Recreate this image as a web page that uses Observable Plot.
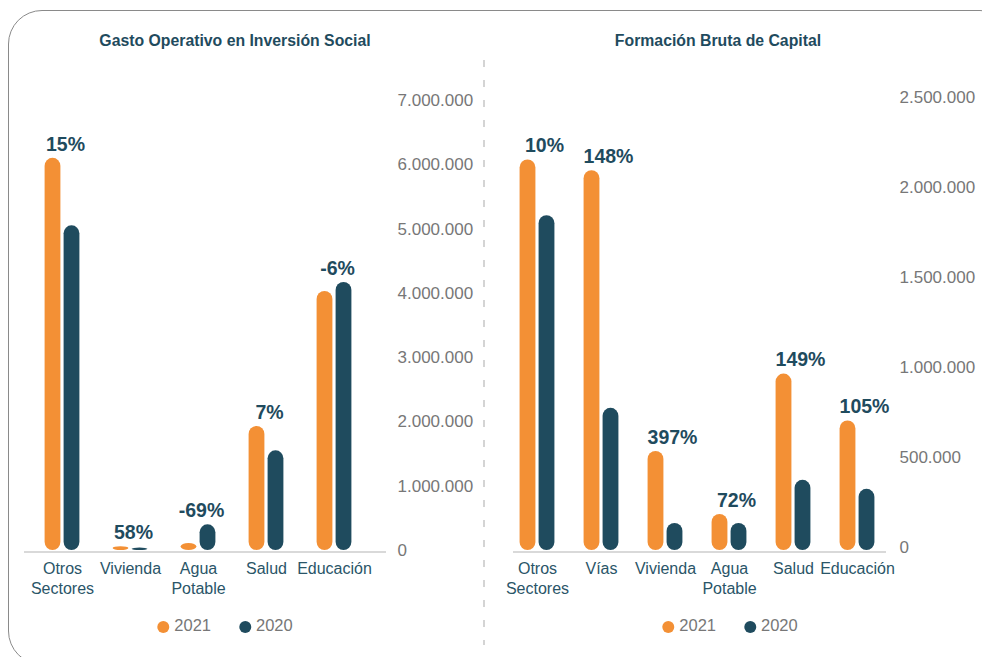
<!DOCTYPE html>
<html>
<head>
<meta charset="utf-8">
<script src="https://cdn.jsdelivr.net/npm/d3@7"></script>
<script src="https://cdn.jsdelivr.net/npm/@observablehq/plot@0.6"></script>
<style>
  html, body { margin: 0; padding: 0; background: #fff; }
  #wrap { position: relative; width: 982px; height: 657px; overflow: hidden; font-family: "Liberation Sans", Arial, sans-serif; }
  #border { position: absolute; left: 8px; top: 10px; width: 1006px; height: 655px; border: 1px solid #8a8a8a; border-radius: 34px; box-sizing: border-box; }
  .title { position: absolute; top: 32px; transform: translateX(-50%); white-space: nowrap; font-weight: bold; font-size: 15.8px; color: #1f4b5e; }
  .legend { position: absolute; top: 616px; transform: translateX(-50%); white-space: nowrap; font-size: 16.5px; color: #777; display: flex; gap: 28px; }
  .legend span { display: inline-flex; align-items: center; }
  .legend i { display: inline-block; width: 12px; height: 12px; border-radius: 50%; margin-right: 5px; margin-top: 3px; }
  #sep { position: absolute; left: 483px; top: 60px; width: 2px; height: 585px; background: repeating-linear-gradient(to bottom, #d4d4d4 0 7px, transparent 7px 20px); }
  .plot { position: absolute; top: 0; }
</style>
</head>
<body>
<div id="wrap">
  <div id="border"></div>
  <div id="sep"></div>
  <div class="title" id="titleA" style="left:235px"></div>
  <div class="title" id="titleB" style="left:718px"></div>
  <div class="plot" id="plotA" style="left:0px"></div>
  <div class="plot" id="plotB" style="left:490px"></div>
  <div class="legend" id="legA" style="left:225px"></div>
  <div class="legend" id="legB" style="left:730px"></div>
</div>
<script>
// ---- data ----
const titleA = "Gasto Operativo en Inversión Social";
const titleB = "Formación Bruta de Capital";
const years = ["2021", "2020"];
const colors = ["#F39035", "#1F4B5E"];

const catsA = ["Otros\nSectores", "Vivienda", "Agua\nPotable", "Salud", "Educación"];
const a2021 = [6100000, 60000, 110000, 1930000, 4030000];
const a2020 = [5050000, 38000, 400000, 1550000, 4170000];
const pctA = ["15%", "58%", "-69%", "7%", "-6%"];
const ticksA = [0, 1000000, 2000000, 3000000, 4000000, 5000000, 6000000, 7000000];

const catsB = ["Otros\nSectores", "Vías", "Vivienda", "Agua\nPotable", "Salud", "Educación"];
const b2021 = [2170000, 2110000, 550000, 200000, 980000, 720000];
const b2020 = [1860000, 790000, 150000, 150000, 390000, 340000];
const pctB = ["10%", "148%", "397%", "72%", "149%", "105%"];
const ticksB = [0, 500000, 1000000, 1500000, 2000000, 2500000];

// ---- helpers ----
const fmt = d3.formatLocale({decimal: ",", thousands: ".", grouping: [3], currency: ["", ""]}).format(",");
const BAR_W = 16, HALF_GAP = 9.5;

function panel(cats, v21, v20, pcts, ticks, opts) {
  const rows21 = cats.map((c, i) => ({cat: c, value: v21[i]}));
  const rows20 = cats.map((c, i) => ({cat: c, value: v20[i]}));
  const labels = cats.map((c, i) => ({cat: c, value: Math.max(v21[i], v20[i]), label: pcts[i]}));
  const bw = (opts.xRange[1] - opts.xRange[0]) / cats.length;
  const inset = (bw - BAR_W) / 2;
  const barStyle = {x: "cat", y: "value", insetLeft: inset, insetRight: inset, rx: 8, ry: 8};
  return Plot.plot({
    width: opts.width,
    height: 610,
    marginLeft: opts.marginLeft,
    marginRight: opts.marginRight,
    marginTop: 100,
    marginBottom: 60,
    style: {fontFamily: '"Liberation Sans", Arial, sans-serif', background: "transparent", overflow: "visible"},
    x: {type: "band", domain: cats, range: opts.xRange, padding: 0},
    y: {domain: [0, ticks[ticks.length - 1]]},
    marks: [
      Plot.ruleY([0], {stroke: "#d9d9d9", strokeWidth: 2, dy: 1.5}),
      Plot.barY(rows21, {...barStyle, fill: colors[0], dx: -HALF_GAP}),
      Plot.barY(rows20, {...barStyle, fill: colors[1], dx: HALF_GAP}),
      Plot.text(labels, {x: "cat", y: "value", text: "label", dy: -14, dx: opts.labelDx,
        fontSize: 19.5, fontWeight: "bold", fill: "#1F4B5E"}),
      Plot.axisX({tickSize: 0, tickPadding: 9, fontSize: 16, lineHeight: 1.25, color: "#2a5568", label: null}),
      Plot.axisY({anchor: "right", ticks: ticks, tickSize: 0, tickPadding: opts.tickPadding,
        tickFormat: fmt, fontSize: 17, color: "#777", dy: opts.tickDy, label: null})
    ]
  });
}

const plotA = panel(catsA, a2021, a2020, pctA, ticksA,
  {width: 480, marginLeft: 24, marginRight: 94, xRange: [27.5, 368.5], tickPadding: 11, tickDy: 0, labelDx: 3});
const plotB = panel(catsB, b2021, b2020, pctB, ticksB,
  {width: 490, marginLeft: 23, marginRight: 94, xRange: [14, 399], tickPadding: 13, tickDy: -3, labelDx: 7});

document.getElementById("plotA").appendChild(plotA);
document.getElementById("plotB").appendChild(plotB);
document.getElementById("titleA").textContent = titleA;
document.getElementById("titleB").textContent = titleB;

function legend(el) {
  years.forEach((y, i) => {
    const s = document.createElement("span");
    const dot = document.createElement("i");
    dot.style.background = colors[i];
    s.appendChild(dot);
    s.appendChild(document.createTextNode(y));
    el.appendChild(s);
  });
}
legend(document.getElementById("legA"));
legend(document.getElementById("legB"));
</script>
</body>
</html>
